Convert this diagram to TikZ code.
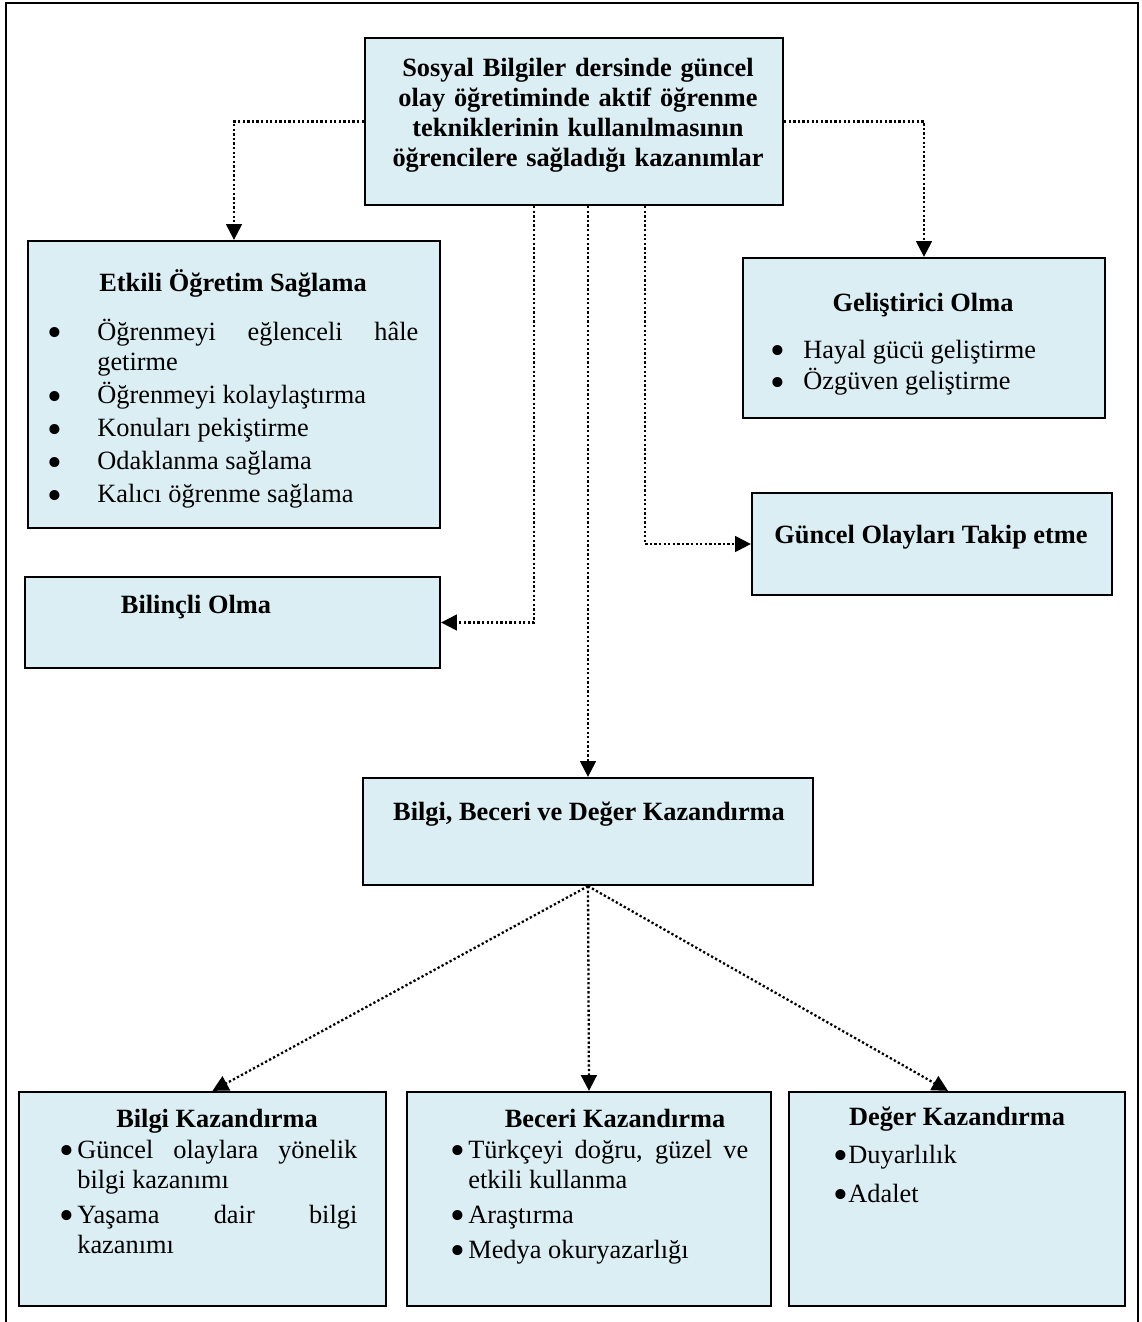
\documentclass[tikz,border=0pt]{standalone}
\usepackage{fontspec}
\setmainfont{Liberation Serif}
\usetikzlibrary{arrows.meta}
\definecolor{kutumavi}{RGB}{219,238,243}
\newcommand{\madde}[2][0.06cm]{\leavevmode\llap{\smash{\raisebox{-0.26em}{\scalebox{1.6}{\textbullet}}}\hspace{#1}}#2\par}
\hyphenpenalty=10000
\exhyphenpenalty=10000
\tolerance=10000
\tikzset{
  kutu/.style={draw, line width=1.3pt, fill=kutumavi, inner sep=0pt},
  baslik/.style={anchor=base, inner sep=0pt, font=\fontsize{15}{17.1}\selectfont\bfseries},
  liste/.style={anchor=base west, inner sep=0pt, align=justify, font=\fontsize{15}{17.1}\selectfont},
  ok/.style={dash pattern=on 1.3pt off 1.3pt, line width=1.3pt, ->}
}
\begin{document}
\begin{tikzpicture}[>={Triangle[length=9pt,width=9pt]}]
\useasboundingbox (0,0) rectangle (22.82,-26.44);
% dis cerceve, alt kenari yok
\draw[line width=1pt] (0.12,-26.44) -- (0.12,-0.06) -- (22.76,-0.06) -- (22.76,-26.44);

% kutular
\node[kutu, minimum width=8.36cm, minimum height=3.34cm] (ana) at (11.48,-2.43) {};
\node[kutu, minimum width=8.24cm, minimum height=5.74cm] (etkili) at (4.68,-7.69) {};
\node[kutu, minimum width=7.24cm, minimum height=3.2cm] (gelis) at (18.48,-6.76) {};
\node[kutu, minimum width=7.2cm, minimum height=2.04cm] (guncel) at (18.64,-10.88) {};
\node[kutu, minimum width=8.3cm, minimum height=1.82cm] (bilincli) at (4.65,-12.45) {};
\node[kutu, minimum width=9cm, minimum height=2.14cm] (bbd) at (11.76,-16.63) {};
\node[kutu, minimum width=7.34cm, minimum height=4.28cm] (bilgi) at (4.05,-23.98) {};
\node[kutu, minimum width=7.28cm, minimum height=4.28cm] (beceri) at (11.78,-23.98) {};
\node[kutu, minimum width=6.72cm, minimum height=4.28cm] (deger) at (19.14,-23.98) {};

% yazilar
\node[baslik, text width=8cm, align=center, font=\fontsize{15}{17.07}\selectfont\bfseries] (anaYazi) at (11.56,-1.534)
  {Sosyal Bilgiler dersinde güncel\\ olay öğretiminde aktif öğrenme\\ tekniklerinin kullanılmasının\\ öğrencilere sağladığı kazanımlar};

\node[baslik] (etkiliBaslik) at (4.66,-5.834) {Etkili Öğretim Sağlama};
\node[liste, text width=6.42cm] (etkiliListe) at (1.94,-6.8)
  {\setlength{\parskip}{1.8pt}%
   \madde[0.7cm]{Öğrenmeyi eğlenceli hâle getirme}\madde[0.7cm]{Öğrenmeyi kolaylaştırma}%
   \madde[0.7cm]{Konuları pekiştirme}\madde[0.7cm]{Odaklanma sağlama}%
   \madde[0.7cm]{Kalıcı öğrenme sağlama}};

\node[baslik] (gelisBaslik) at (18.46,-6.22) {Geliştirici Olma};
\node[liste, text width=5.8cm] (gelisListe) at (16.06,-7.16)
  {\setlength{\parskip}{1.1pt}%
   \madde[0.36cm]{Hayal gücü geliştirme}\madde[0.36cm]{Özgüven geliştirme}};

\node[baslik] (guncelYazi) at (18.62,-10.86) {Güncel Olayları Takip etme};
\node[baslik] (bilincliYazi) at (3.92,-12.26) {Bilinçli Olma};
\node[baslik] (bbdYazi) at (11.78,-16.4) {Bilgi, Beceri ve Değer Kazandırma};

\node[baslik] (bilgiBaslik) at (4.34,-22.54) {Bilgi Kazandırma};
\node[liste, text width=5.6cm] (bilgiListe) at (1.54,-23.16)
  {\setlength{\parskip}{2.8pt}%
   \madde{Güncel olaylara yönelik bilgi kazanımı}\madde{Yaşama dair bilgi kazanımı}};

\node[baslik] (beceriBaslik) at (12.3,-22.54) {Beceri Kazandırma};
\node[liste, text width=5.6cm] (beceriListe) at (9.36,-23.16)
  {\setlength{\parskip}{2.8pt}%
   \madde{Türkçeyi doğru, güzel ve etkili kullanma}\madde{Araştırma}\madde{Medya okuryazarlığı}};

\node[baslik] (degerBaslik) at (19.14,-22.5) {Değer Kazandırma};
\node[liste, text width=5.5cm] (degerListe) at (16.96,-23.26)
  {\setlength{\parskip}{5.1pt}%
   \madde[0cm]{Duyarlılık}\madde[0cm]{Adalet}};

% oklar
\draw[ok] (ana.west) -| (etkili.north);
\draw[ok] (ana.east) -| (gelis.north);
\draw[ok] ([xshift=-0.8cm]ana.south) |- (bilincli.east);
\draw[ok] (bbd.north |- ana.south) -- (bbd.north);
\draw[ok] ([xshift=1.42cm]ana.south) |- (guncel.west);
\draw[ok] (bbd.south) -- ([xshift=0.2cm]bilgi.north);
\draw[ok] (bbd.south) -- (beceri.north);
\draw[ok] (bbd.south) -- ([xshift=-0.18cm]deger.north);
\end{tikzpicture}
\end{document}
